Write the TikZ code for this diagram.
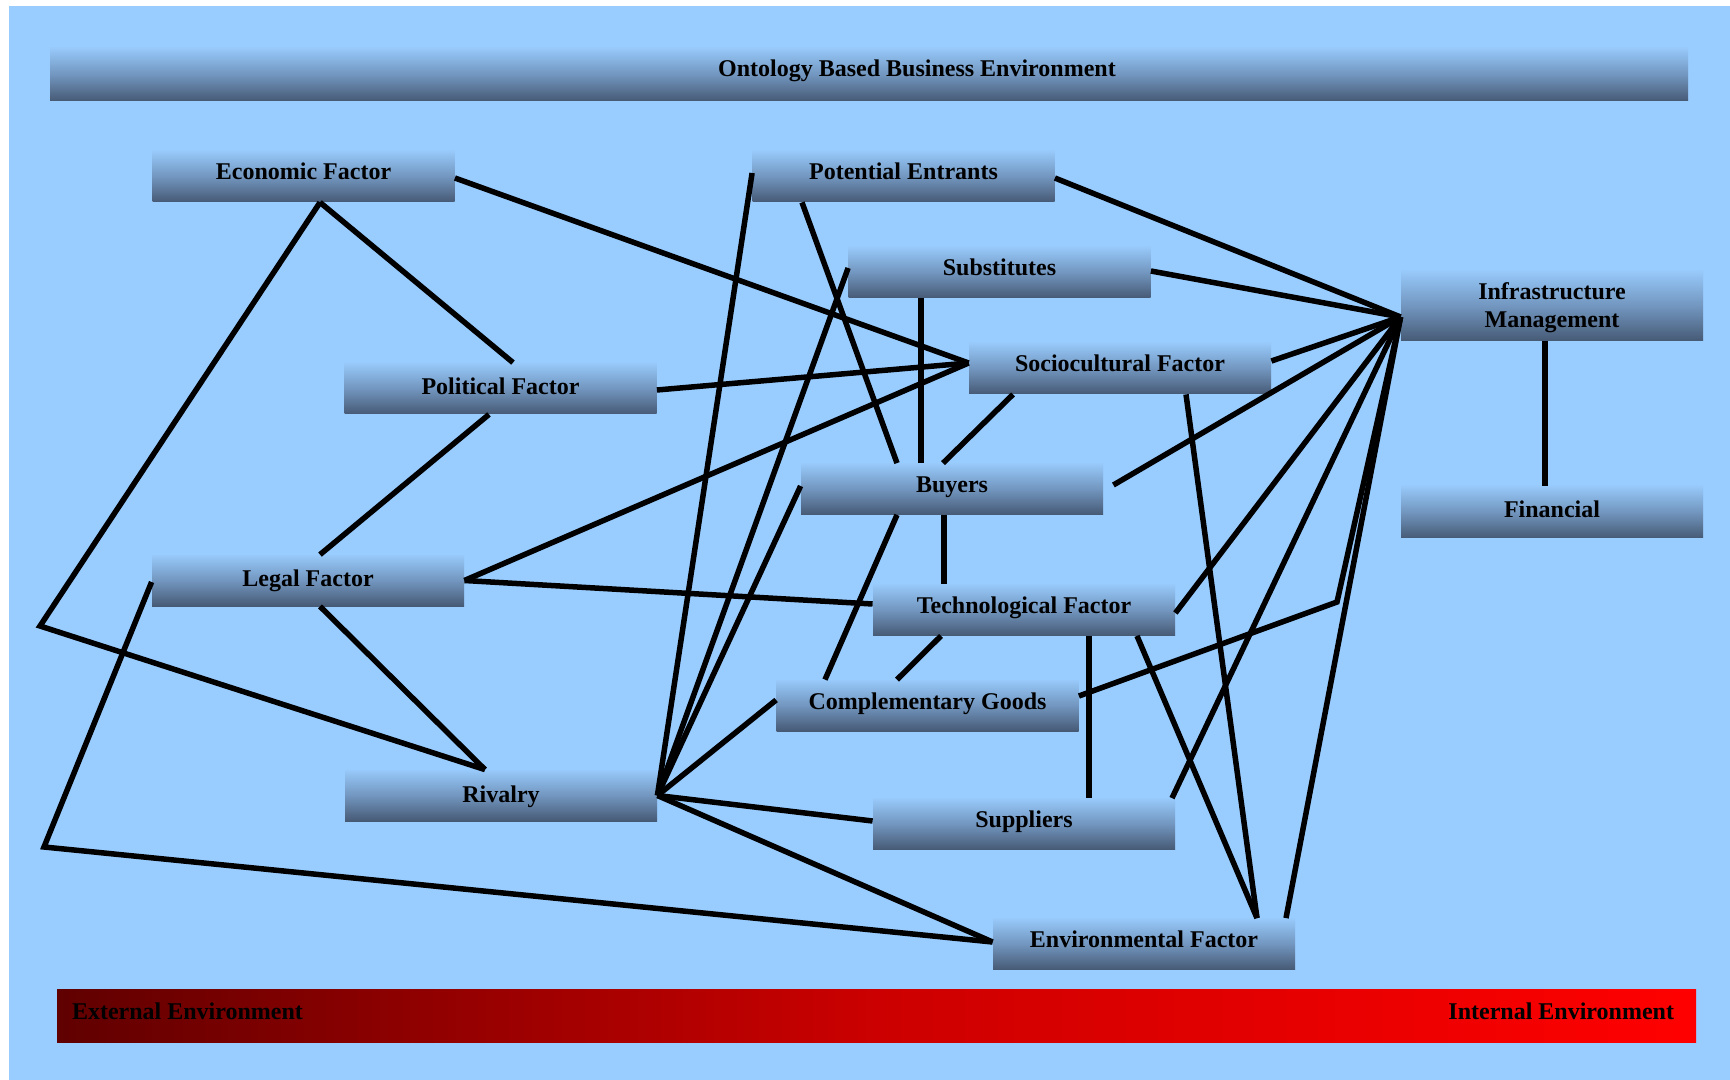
\documentclass[tikz,border=0pt]{standalone}
\usepackage{fontspec}
\setmainfont{Liberation Serif}
\usetikzlibrary{calc}

\definecolor{bgblue}{RGB}{153,204,255}
\definecolor{boxtop}{RGB}{151,201,250}
\definecolor{boxmid}{RGB}{114,150,191}
\definecolor{boxbot}{RGB}{70,90,117}
\definecolor{darkred}{RGB}{96,0,0}
\definecolor{midred}{RGB}{204,0,0}

\tikzset{
  boxbase/.style={rectangle, inner sep=0pt, draw=none,
    top color=boxtop, bottom color=boxbot, middle color=boxmid,
    font=\fontsize{12pt}{14pt}\selectfont\bfseries},
  box/.style={boxbase, minimum width=151pt, text height=14.5pt, text depth=11pt},
  widebox/.style={boxbase, minimum width=156pt, text height=16pt, text depth=9.5pt},
  redbar/.style={rectangle, inner sep=0pt, draw=none,
    left color=darkred, right color=red, middle color=midred},
  lbl/.style={inner sep=0pt, font=\fontsize{12pt}{14pt}\selectfont\bfseries},
  link/.style={line width=2.75pt, black}
}

\begin{document}
\begin{tikzpicture}[x=0.5pt, y=-0.5pt]
  \useasboundingbox (0,0) rectangle (1730,1080);
  \fill[white] (0,0) rectangle (1730,1080);
  \fill[bgblue] (9,6) rectangle (1730,1080);

  % heading bar
  \node[boxbase, minimum width=819pt, text height=14.5pt, text depth=12pt]
    (title) at (869,74.5) {\hspace*{48pt}Ontology Based Business Environment};

  % factor boxes
  \node[box] (econ) at (303.5,176.5) {Economic Factor};
  \node[box] (pent) at (903.5,176.5) {Potential Entrants};
  \node[box] (subs) at (999.5,272.5) {Substitutes};
  \node[boxbase, align=center, minimum width=151pt, minimum height=35pt]
    (infra) at (1552,306) {\rule{0pt}{10.2pt}Infrastructure\\Management};
  \node[box] (socio) at (1120,368.5) {Sociocultural Factor};
  \node[widebox] (polit) at (500.5,388.5) {Political Factor};
  \node[box] (buy) at (952,489) {Buyers};
  \node[box, text height=15.6pt, text depth=10.4pt] (fin) at (1552,512) {Financial};
  \node[widebox] (legal) at (308,580.5) {Legal Factor};
  \node[box] (tech) at (1024,610) {Technological Factor};
  \node[box] (comp) at (927.5,705.5) {Complementary Goods};
  \node[widebox] (riv) at (501,795.5) {Rivalry};
  \node[box] (supp) at (1024,824) {Suppliers};
  \node[box] (env) at (1144,944) {Environmental Factor};

  % environment scale
  \node[redbar, minimum width=819.5pt, minimum height=26.5pt] (envbar) at (876.5,1015.5) {};
  \node[lbl, anchor=base west] (ext) at ($(envbar.north west)+(15,31)$) {External Environment};
  \node[lbl, anchor=base east] (int) at ($(envbar.north east)+(-22,31)$) {Internal Environment};

  % bend points and hubs
  \coordinate (bendA) at (40,626);
  \coordinate (bendB) at (44,847);
  \coordinate (bendC) at (1337,602);
  \coordinate (hub) at (infra.west |- 0,317);
  \coordinate (buyend) at ($(buy.east)+(10,-4)$);

  % relations
  \draw[link] (econ.south -| 320,0) -- (bendA) -- (riv.north -| 485,0);
  \draw[link] (econ.south -| 320,0) -- (polit.north -| 513,0);
  \draw[link] (econ.east |- 0,178) -- (socio.west |- 0,363);
  \draw[link] (polit.east |- 0,390) -- (socio.west |- 0,363);
  \draw[link] (polit.south -| 489,0) -- (legal.north -| 320,0);
  \draw[link] (legal.east) -- (socio.west |- 0,363);
  \draw[link] (legal.east) -- (tech.west |- 0,604);
  \draw[link] (legal.south -| 320,0) -- (riv.north -| 485,0);
  \draw[link] (legal.west |- 0,582) -- (bendB) -- (env.west |- 0,942);
  \draw[link] (pent.west |- 0,173) -- (riv.east);
  \draw[link] (pent.south -| 802,0) -- (buy.north -| 897,0);
  \draw[link] (pent.east |- 0,178) -- (hub);
  \draw[link] (subs.west |- 0,268) -- (riv.east);
  \draw[link] (subs.south -| 921,0) -- (buy.north -| 921,0);
  \draw[link] (subs.east |- 0,271) -- (hub);
  \draw[link] (socio.east |- 0,361) -- (hub);
  \draw[link] (socio.south -| 1013,0) -- (buy.north -| 943,0);
  \draw[link] (socio.south -| 1186,0) -- (env.north -| 1257,0);
  \draw[link] (buy.west |- 0,486) -- (riv.east);
  \draw[link] (buyend) -- (hub);
  \draw[link] (buy.south -| 897,0) -- (comp.north -| 825,0);
  \draw[link] (buy.south -| 944,0) -- (tech.north -| 944,0);
  \draw[link] (tech.east |- 0,613) -- (hub);
  \draw[link] (tech.south -| 941,0) -- (comp.north -| 897,0);
  \draw[link] (tech.south -| 1089,0) -- (supp.north -| 1089,0);
  \draw[link] (tech.south -| 1137,0) -- (env.north -| 1257,0);
  \draw[link] (comp.east |- 0,696) -- (bendC) -- (hub);
  \draw[link] (comp.west |- 0,700) -- (riv.east);
  \draw[link] (riv.east) -- (supp.west |- 0,821);
  \draw[link] (riv.east) -- (env.west |- 0,942);
  \draw[link] (supp.north -| 1172,0) -- (hub);
  \draw[link] (env.north -| 1286,0) -- (hub);
  \draw[link] (infra.south -| 1545,0) -- (fin.north -| 1545,0);
\end{tikzpicture}
\end{document}
